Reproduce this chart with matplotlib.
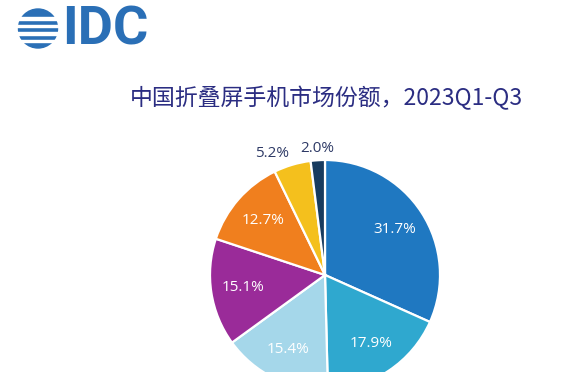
import numpy as np
import matplotlib
matplotlib.use("Agg")
import matplotlib.pyplot as plt
from matplotlib.patches import Circle, Rectangle

# data
shares = [31.7, 17.9, 15.4, 15.1, 12.7, 5.2, 2.0]
colors = ['#1f78c1', '#2fa8cf', '#a5d7ea', '#9a2b99', '#f07f1e', '#f4c01d', '#173b5f']
title = '中国折叠屏手机市场份额，2023Q1-Q3'

W, H = 576, 372
fig = plt.figure(figsize=(W / 100, H / 100), dpi=100)
fig.patch.set_facecolor('white')

# pie axes placed by pixel centre / radius
cx, cy, r = 325, 275, 115
ax = fig.add_axes([(cx - r) / W, (H - cy - r) / H, 2 * r / W, 2 * r / H])
wedges, texts, autotexts = ax.pie(
    shares, colors=colors, startangle=90, counterclock=False,
    autopct='%.1f%%', pctdistance=0.72,
    wedgeprops=dict(edgecolor='white', linewidth=1.6),
    textprops=dict(color='white', fontsize=11, family='Open Sans'))
ax.set_aspect('equal')
ax.set_xlim(-1, 1)
ax.set_ylim(-1, 1)

# small slices get their labels outside
for w, t, v in zip(wedges, autotexts, shares):
    if v < 6:
        ang = np.deg2rad((w.theta1 + w.theta2) / 2)
        t.set_position((1.1 * np.cos(ang), 1.1 * np.sin(ang)))
        t.set_color('#2e3a66')
        if np.cos(ang) < -0.2:
            t.set_ha('right')

# title
fig.text(326 / W, 1 - 98 / H, title, ha='center', va='center', fontsize=16.5,
         color='#2b2d82', family=['Noto Sans CJK SC', 'DejaVu Sans'])

# IDC logo
lax = fig.add_axes([0, 0, 1, 1])
lax.set_xlim(0, W)
lax.set_ylim(H, 0)
lax.axis('off')
lax.patch.set_alpha(0)
blue = '#2a6fb6'
lax.add_patch(Circle((38, 28.5), 19.5, color=blue))
for yy in [17, 24.5, 32, 39.5]:
    lax.add_patch(Rectangle((16, yy), 46, 2.6, color='white'))
lax.text(62, 30, 'IDC', fontsize=39, fontweight='bold', color=blue,
         family='Roboto', va='center', ha='left')

fig.savefig('out.png', dpi=100, facecolor='white')
